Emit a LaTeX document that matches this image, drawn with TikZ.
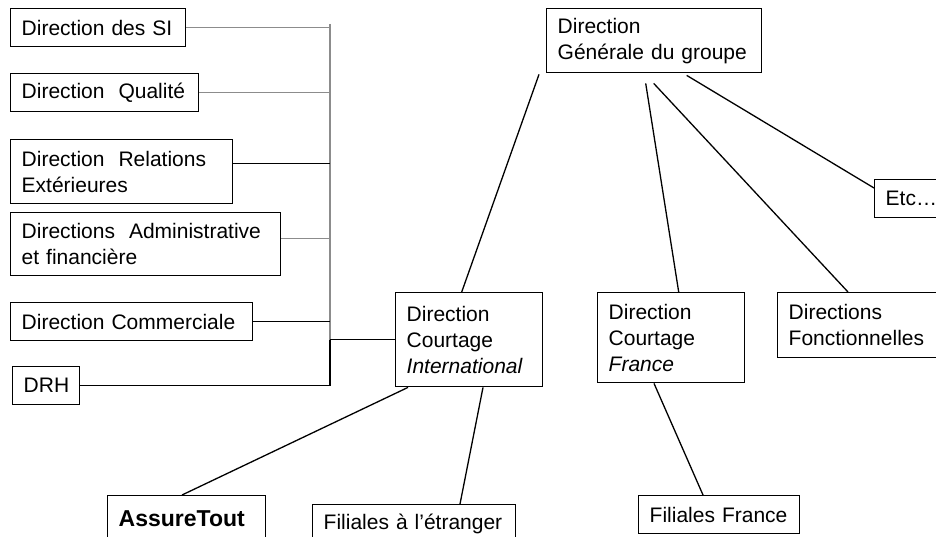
\documentclass[tikz,border=0pt]{standalone}
\usepackage{fontspec}
\setmainfont{Liberation Sans}
\usepackage{tikz}
\usetikzlibrary{positioning}
\definecolor{busgray}{gray}{0.55}

\begin{document}
\begin{tikzpicture}[
    x=1pt,y=-1pt,
    unit/.style={draw,line width=1.4pt,anchor=north west,align=left,inner xsep=11pt,inner ysep=0pt,font=\fontsize{21}{26}\selectfont},
    link/.style={line width=1.3pt},
    faint/.style={link,draw=busgray}
  ]
    \useasboundingbox (0,0) rectangle (936,537);
    \clip (0,0) rectangle (936,537);

    % directions rattachees (colonne de gauche)
    \node[unit,text width=153pt,minimum height=38pt] (si) at (10,8) {Direction des SI};
    \node[unit,text width=166pt,minimum height=38pt] (qualite) at (10,73) {Direction\ \ Qualité};
    \node[unit,text width=200pt,minimum height=64pt] (relext) at (10,139) {Direction\ \ Relations\\Extérieures};
    \node[unit,text width=248pt,minimum height=63pt] (adminfin) at (10,212) {Directions\ \ Administrative\\et financière};
    \node[unit,text width=220pt,minimum height=38pt] (commerciale) at (10,302) {Direction Commerciale};
    \node[unit,text width=45pt,minimum height=38pt] (drh) at (12,366) {DRH};

    % direction generale et branches
    \node[unit,text width=193pt,minimum height=64pt] (dg) at (546,8) {Direction\\Générale du groupe};
    \node[unit,text width=125pt,minimum height=94pt] (dcint) at (395,292) {Direction\\Courtage\\\textit{International}};
    \node[unit,text width=125pt,minimum height=90pt] (dcfr) at (597,292) {Direction\\Courtage\\\textit{France}};
    \node[unit,text width=170pt,minimum height=65pt] (fonct) at (777,292) {Directions\\Fonctionnelles};
    \node[unit,text width=80pt,minimum height=38pt] (etcbox) at (874,179) {Etc…};

    % filiales
    \node[unit,text width=136pt,minimum height=45pt,font=\fontsize{23}{27}\selectfont\bfseries] (assuretout) at (107,495) {AssureTout};
    \node[unit,text width=181pt,minimum height=38pt] (filetr) at (312,504) {Filiales à l\symbol{39}étranger};
    \node[unit,text width=139pt,minimum height=38pt] (filfr) at (638,495) {Filiales France};

    % bus vertical
    \coordinate (bustop) at (330,24);
    \coordinate (relpt) at ([yshift=8pt]relext.east);
    \coordinate (admpt) at ([yshift=6pt]adminfin.east);
    \draw[faint] (bustop) -- (bustop |- dcint.west);
    \draw[link] (bustop |- dcint.west) -- (bustop |- drh.east);

    \draw[faint] (si.east) -- (si.east -| bustop);
    \draw[faint] (qualite.east) -- (qualite.east -| bustop);
    \draw[link] (relpt) -- (relpt -| bustop);
    \draw[faint] (admpt) -- (admpt -| bustop);
    \draw[link] (commerciale.east) -- (commerciale.east -| bustop);
    \draw[link] (drh.east) -- (drh.east -| bustop);
    \draw[link] (dcint.west -| bustop) -- (dcint.west);

    % liens de la direction generale
    \draw[link] ([xshift=-7.5pt]dcint.north) -- ([shift={(-7,1)}]dg.south west);
    \draw[link] ([xshift=7.5pt]dcfr.north) -- ([shift={(-8.5,10)}]dg.south);
    \draw[link] ([xshift=71pt]fonct.north west) -- ([shift={(-0.5,10)}]dg.south);
    \draw[link] ([shift={(0,9)}]etcbox.north west) -- ([shift={(32.5,2)}]dg.south);

    % liens vers les filiales
    \draw[link] ([xshift=13pt]dcint.south west) -- ([xshift=75pt]assuretout.north west);
    \draw[link] ([xshift=88pt]dcint.south west) -- ([xshift=148pt]filetr.north west);
    \draw[link] ([xshift=57pt]dcfr.south west) -- ([xshift=65pt]filfr.north west);
\end{tikzpicture}
\end{document}
